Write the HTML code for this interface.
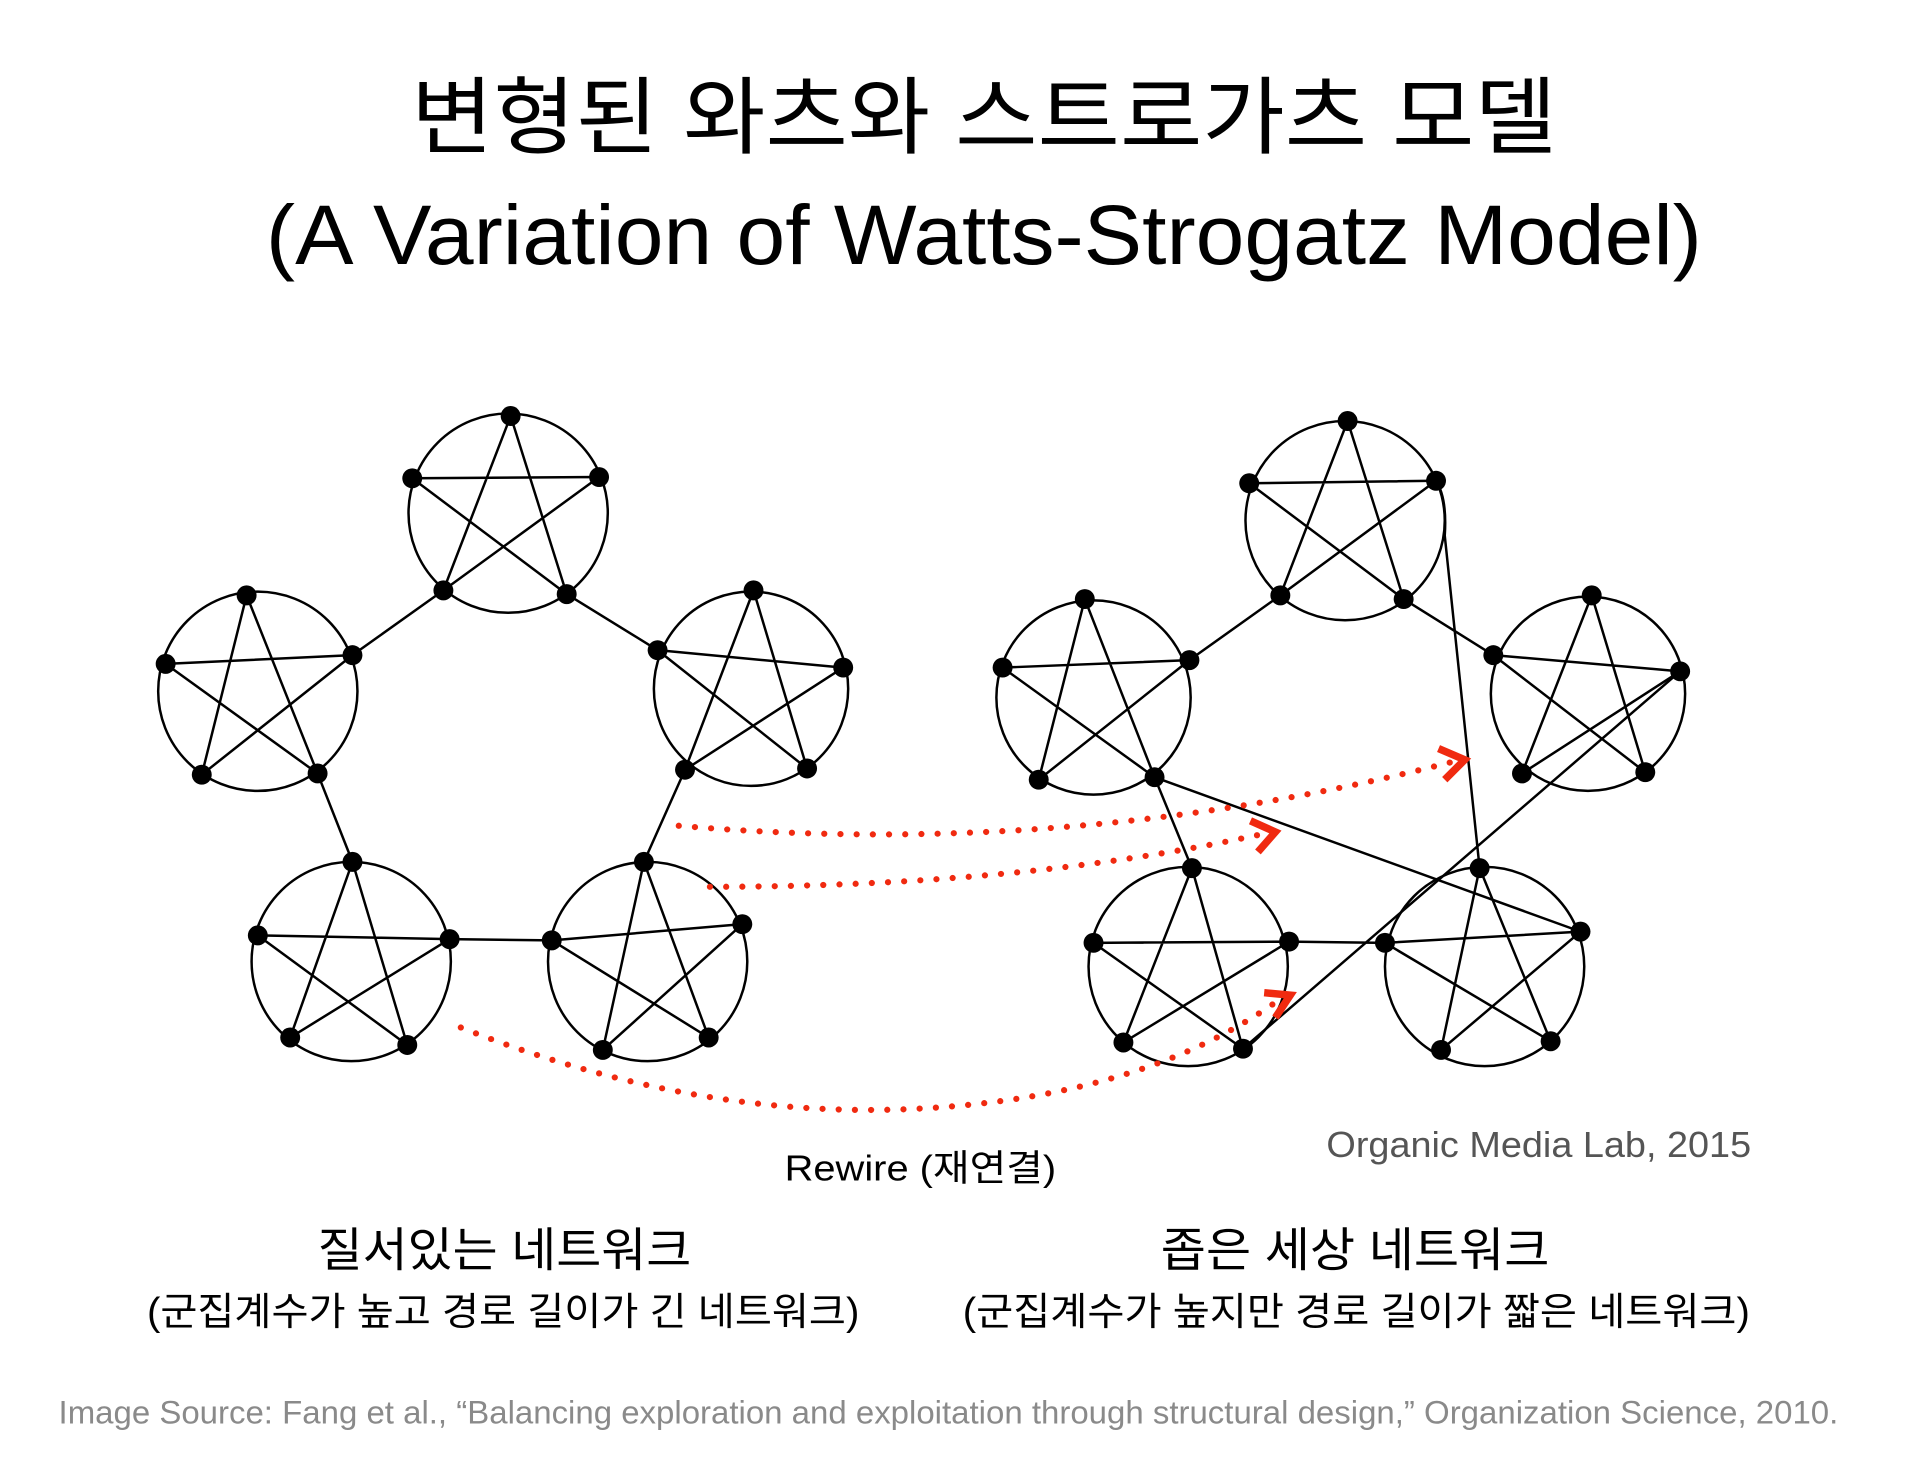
<!DOCTYPE html>
<html><head><meta charset="utf-8"><style>
html,body{margin:0;padding:0;background:#fff;}
svg{display:block;}
text{font-family:"Liberation Sans","Noto Sans CJK KR",sans-serif;}
</style></head><body>
<svg width="1928" height="1458" viewBox="0 0 1548 1170.6" xmlns="http://www.w3.org/2000/svg">
<rect width="1548" height="1171" fill="#fff"/>
<text x="790" y="118" font-size="68" text-anchor="middle" textLength="920" lengthAdjust="spacingAndGlyphs">변형된 와츠와 스트로가츠 모델</text>
<text x="790" y="212" font-size="68" text-anchor="middle" textLength="1153" lengthAdjust="spacingAndGlyphs">(A Variation of Watts-Strogatz Model)</text>

<g stroke="#000" stroke-width="2" fill="none">
<circle cx="408" cy="412" r="80"/>
<circle cx="207" cy="555" r="80"/>
<circle cx="603" cy="553" r="78"/>
<circle cx="282" cy="772" r="80"/>
<circle cx="520" cy="772" r="80"/>
<circle cx="1080" cy="418" r="80"/>
<circle cx="878" cy="560" r="78"/>
<circle cx="1275" cy="557" r="78"/>
<circle cx="954" cy="776" r="80"/>
<circle cx="1192" cy="776" r="80"/>
</g>
<g stroke="#000" stroke-width="2" fill="none">
<path d="M410 334L455 477M410 334L356 474M481 383L331 384M481 383L356 474M455 477L331 384"/>
<path d="M198 478L255 621M198 478L162 622M283 526L133 533M283 526L162 622M255 621L133 533"/>
<path d="M605 474L648 617M605 474L550 618M677 536L528 522M677 536L550 618M648 617L528 522"/>
<path d="M283 692L327 839M283 692L233 833M361 754L207 751M361 754L233 833M327 839L207 751"/>
<path d="M517 692L569 833M517 692L484 843M596 742L443 755M596 742L484 843M569 833L443 755"/>
<path d="M356 474L283 526M455 477L528 522M255 621L283 692M550 618L517 692M361 754L443 755"/>
<path d="M1082 338L1127 481M1082 338L1028 478M1153 386L1003 388M1153 386L1028 478M1127 481L1003 388"/>
<path d="M871 481L927 624M871 481L834 626M955 530L805 536M955 530L834 626M927 624L805 536"/>
<path d="M1278 478L1321 620M1278 478L1222 621M1349 539L1199 526M1349 539L1222 621M1321 620L1199 526"/>
<path d="M957 697L998 842M957 697L902 837M1035 756L878 757M1035 756L902 837M998 842L878 757"/>
<path d="M1188 697L1245 836M1188 697L1157 843M1269 748L1112 757M1269 748L1157 843M1245 836L1112 757"/>
<path d="M1028 478L955 530M1127 481L1199 526M927 624L957 697M1035 756L1112 757"/>
<path d="M1153 386Q1162 400 1160 430L1188 697M927 624L1269 748M998 842L1349 539"/>
</g>
<g fill="#000">
<circle cx="410" cy="334" r="8"/><circle cx="331" cy="384" r="8"/><circle cx="481" cy="383" r="8"/><circle cx="356" cy="474" r="8"/><circle cx="455" cy="477" r="8"/>
<circle cx="198" cy="478" r="8"/><circle cx="133" cy="533" r="8"/><circle cx="283" cy="526" r="8"/><circle cx="162" cy="622" r="8"/><circle cx="255" cy="621" r="8"/>
<circle cx="605" cy="474" r="8"/><circle cx="528" cy="522" r="8"/><circle cx="677" cy="536" r="8"/><circle cx="550" cy="618" r="8"/><circle cx="648" cy="617" r="8"/>
<circle cx="283" cy="692" r="8"/><circle cx="207" cy="751" r="8"/><circle cx="361" cy="754" r="8"/><circle cx="233" cy="833" r="8"/><circle cx="327" cy="839" r="8"/>
<circle cx="517" cy="692" r="8"/><circle cx="443" cy="755" r="8"/><circle cx="596" cy="742" r="8"/><circle cx="484" cy="843" r="8"/><circle cx="569" cy="833" r="8"/>
<circle cx="1082" cy="338" r="8"/><circle cx="1003" cy="388" r="8"/><circle cx="1153" cy="386" r="8"/><circle cx="1028" cy="478" r="8"/><circle cx="1127" cy="481" r="8"/>
<circle cx="871" cy="481" r="8"/><circle cx="805" cy="536" r="8"/><circle cx="955" cy="530" r="8"/><circle cx="834" cy="626" r="8"/><circle cx="927" cy="624" r="8"/>
<circle cx="1278" cy="478" r="8"/><circle cx="1199" cy="526" r="8"/><circle cx="1349" cy="539" r="8"/><circle cx="1222" cy="621" r="8"/><circle cx="1321" cy="620" r="8"/>
<circle cx="957" cy="697" r="8"/><circle cx="878" cy="757" r="8"/><circle cx="1035" cy="756" r="8"/><circle cx="902" cy="837" r="8"/><circle cx="998" cy="842" r="8"/>
<circle cx="1188" cy="697" r="8"/><circle cx="1112" cy="757" r="8"/><circle cx="1269" cy="748" r="8"/><circle cx="1157" cy="843" r="8"/><circle cx="1245" cy="836" r="8"/>
</g>
<g stroke="#f02a10" stroke-width="5" fill="none" stroke-linecap="round">
<path d="M545 663Q860 690 1165 612" stroke-dasharray="0 13"/>
<path d="M570 712Q820 712 1012 670" stroke-dasharray="0 13"/>
<path d="M370 825Q560 900 740 890Q920 880 1028 802" stroke-dasharray="0 13"/>
<path d="M1155 601L1176 610L1160 626" stroke-width="6" stroke-linecap="butt"/>
<path d="M1004 659L1024 668L1010 684" stroke-width="6" stroke-linecap="butt"/>
<path d="M1015 797L1036 799L1024 817" stroke-width="6" stroke-linecap="butt"/>
</g>

<text x="1065" y="929" font-size="29" fill="#555" textLength="341" lengthAdjust="spacingAndGlyphs">Organic Media Lab, 2015</text>
<text x="630" y="948" font-size="29" fill="#000" textLength="218" lengthAdjust="spacingAndGlyphs">Rewire (재연결)</text>
<text x="405" y="1017" font-size="38" text-anchor="middle" textLength="300" lengthAdjust="spacingAndGlyphs">질서있는 네트워크</text>
<text x="118" y="1064" font-size="31" textLength="572" lengthAdjust="spacingAndGlyphs">(군집계수가 높고 경로 길이가 긴 네트워크)</text>
<text x="1088" y="1017" font-size="38" text-anchor="middle" textLength="312" lengthAdjust="spacingAndGlyphs">좁은 세상 네트워크</text>
<text x="773" y="1064" font-size="31" textLength="632" lengthAdjust="spacingAndGlyphs">(군집계수가 높지만 경로 길이가 짧은 네트워크)</text>
<text x="47" y="1143" font-size="26" fill="#8a8a8a" textLength="1429" lengthAdjust="spacingAndGlyphs">Image Source: Fang et al., “Balancing exploration and exploitation through structural design,” Organization Science, 2010.</text>
</svg>
</body></html>
